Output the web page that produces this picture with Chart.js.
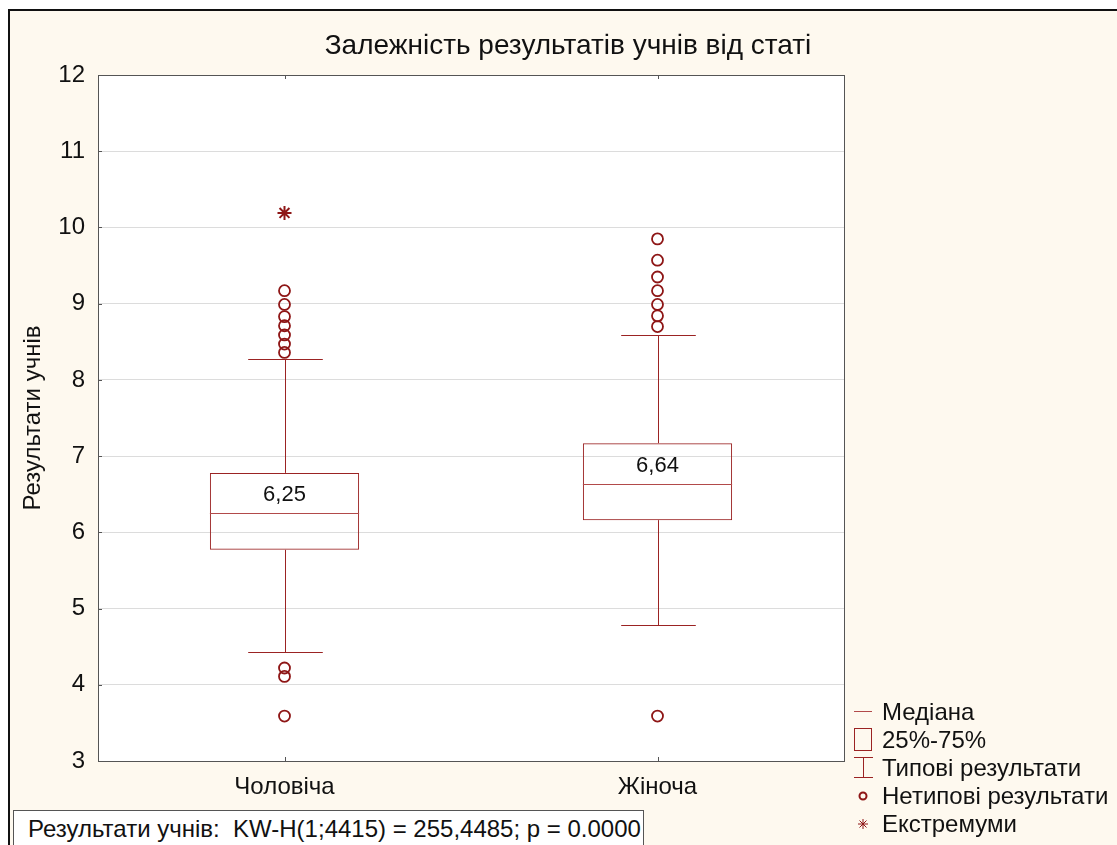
<!DOCTYPE html>
<html lang="uk">
<head>
<meta charset="utf-8">
<title>Залежність результатів учнів від статі</title>
<script src="https://cdn.jsdelivr.net/npm/chart.js@4.4.1/dist/chart.umd.min.js"></script>
<style>
  html, body { margin: 0; padding: 0; background: #ffffff; }
  body { width: 1117px; height: 845px; position: relative; overflow: hidden;
         font-family: "Liberation Sans", Arial, sans-serif; color: #111; }
  #frame { position: absolute; left: 8px; top: 9px; width: 1200px; height: 900px;
           background: #fef9ef; border-top: 2px solid #111; border-left: 2px solid #111; }
  #chart { position: absolute; left: 0; top: 0; }
  #title { position: absolute; left: 218px; width: 700px; top: 28px; text-align: center;
           font-size: 28px; line-height: 34px; white-space: nowrap; }
  #stats { position: absolute; left: 13px; top: 810px; width: 631px; height: 50px;
           background: #ffffff; border: 1px solid #555; box-sizing: border-box;
           font-size: 24px; line-height: 36px; padding-left: 14px; white-space: pre; }
  .leg { position: absolute; left: 882px; font-size: 24px; line-height: 28px; white-space: nowrap; }
</style>
</head>
<body>
<div id="frame"></div>
<canvas id="chart" width="1117" height="845"></canvas>
<div id="title">Залежність результатів учнів від статі</div>
<div id="legendText"></div>
<div id="stats">Результати учнів:  KW-H(1;4415) = 255,4485; p = 0.0000</div>
<script>
// Groups and box-plot statistics
const categories = ['Чоловіча', 'Жіноча'];
const quartile1 = [5.77, 6.16];
const quartile3 = [6.78, 7.17];
const medians = [6.25, 6.64];
const whiskerLow = [4.43, 4.78];
const whiskerHigh = [8.27, 8.59];
const outliersMale = [3.59, 4.11, 4.22, 8.36, 8.47, 8.59, 8.71, 8.83, 8.99, 9.17];
const outliersFemale = [3.59, 8.70, 8.84, 8.99, 9.17, 9.35, 9.57, 9.85];
const extremesMale = [10.19];
const yTicks = [3, 4, 5, 6, 7, 8, 9, 10, 11, 12];
const legendLabels = ['Медіана', '25%-75%', 'Типові результати', 'Нетипові результати', 'Екстремуми'];

const boxColor = '#9b2323';
const medianColor = '#b24a4a';
const pointColor = '#8e1616';
const fontFamily = '"Liberation Sans", Arial, sans-serif';

// Legend captions
const legendRowsY = [712, 740, 768, 796, 824];
const legendHost = document.getElementById('legendText');
legendLabels.forEach((t, i) => {
  const d = document.createElement('div');
  d.className = 'leg';
  d.style.top = (legendRowsY[i] - 14) + 'px';
  d.textContent = t;
  legendHost.appendChild(d);
});

const boxPlotPlugin = {
  id: 'boxPlot',
  beforeDraw(chart) {
    const { ctx, chartArea: a } = chart;
    ctx.save();
    ctx.fillStyle = '#ffffff';
    ctx.fillRect(a.left, a.top, a.right - a.left, a.bottom - a.top);
    ctx.restore();
  },
  afterDatasetsDraw(chart) {
    const { ctx, chartArea: a, scales } = chart;
    const y = scales.y, x = scales.x;
    const meta = chart.getDatasetMeta(0);
    ctx.save();
    ctx.lineWidth = 1;
    meta.data.forEach((bar, i) => {
      const cx = Math.round(bar.x) + 0.5;
      const half = bar.width / 2;
      const capHalf = half / 2;
      const pQ1 = y.getPixelForValue(quartile1[i]);
      const pQ3 = y.getPixelForValue(quartile3[i]);
      const pLo = Math.round(y.getPixelForValue(whiskerLow[i])) + 0.5;
      const pHi = Math.round(y.getPixelForValue(whiskerHigh[i])) + 0.5;
      const pMed = Math.round(y.getPixelForValue(medians[i])) + 0.5;
      // whiskers
      ctx.strokeStyle = boxColor;
      ctx.beginPath();
      ctx.moveTo(cx, pQ3); ctx.lineTo(cx, pHi);
      ctx.moveTo(cx - capHalf, pHi); ctx.lineTo(cx + capHalf, pHi);
      ctx.moveTo(cx, pQ1); ctx.lineTo(cx, pLo);
      ctx.moveTo(cx - capHalf, pLo); ctx.lineTo(cx + capHalf, pLo);
      ctx.stroke();
      // median
      ctx.strokeStyle = medianColor;
      ctx.beginPath();
      ctx.moveTo(bar.x - half, pMed); ctx.lineTo(bar.x + half, pMed);
      ctx.stroke();
      // median value
      ctx.fillStyle = '#111';
      ctx.font = '22px ' + fontFamily;
      ctx.textAlign = 'center';
      ctx.textBaseline = 'middle';
      ctx.fillText(medians[i].toFixed(2).replace('.', ','), bar.x, (pQ3 + pMed) / 2 + 2);
    });
    // plot frame and inward ticks
    ctx.strokeStyle = '#555';
    ctx.lineWidth = 1;
    ctx.strokeRect(Math.round(a.left) + 0.5, Math.round(a.top) + 0.5,
                   Math.round(a.right - a.left), Math.round(a.bottom - a.top));
    ctx.beginPath();
    yTicks.forEach(v => {
      const py = Math.round(y.getPixelForValue(v)) + 0.5;
      ctx.moveTo(a.left, py); ctx.lineTo(a.left + 4, py);
    });
    categories.forEach((c, i) => {
      const px = Math.round(x.getPixelForValue(i)) + 0.5;
      ctx.moveTo(px, a.top); ctx.lineTo(px, a.top + 4);
      ctx.moveTo(px, a.bottom); ctx.lineTo(px, a.bottom - 4);
    });
    ctx.stroke();
    ctx.restore();
    drawLegendSymbols(ctx);
  }
};

function drawLegendSymbols(ctx) {
  ctx.save();
  ctx.lineWidth = 1;
  // median
  ctx.strokeStyle = medianColor;
  ctx.beginPath();
  ctx.moveTo(854, 711.5); ctx.lineTo(872, 711.5);
  ctx.stroke();
  // quartile box
  ctx.strokeStyle = boxColor;
  ctx.strokeRect(854.5, 728.5, 17, 22);
  // whisker
  ctx.beginPath();
  ctx.moveTo(863.5, 757); ctx.lineTo(863.5, 778);
  ctx.moveTo(854, 757.5); ctx.lineTo(873, 757.5);
  ctx.moveTo(854, 777.5); ctx.lineTo(873, 777.5);
  ctx.stroke();
  // outlier
  ctx.strokeStyle = pointColor;
  ctx.lineWidth = 2;
  ctx.beginPath();
  ctx.arc(863, 796, 3.5, 0, Math.PI * 2);
  ctx.stroke();
  // extreme
  ctx.lineWidth = 1;
  ctx.beginPath();
  ctx.moveTo(863, 819); ctx.lineTo(863, 829);
  ctx.moveTo(858, 824); ctx.lineTo(868, 824);
  ctx.moveTo(859.5, 820.5); ctx.lineTo(866.5, 827.5);
  ctx.moveTo(866.5, 820.5); ctx.lineTo(859.5, 827.5);
  ctx.stroke();
  ctx.restore();
}

const toPoints = (label, arr) => arr.map(v => ({ x: label, y: v }));

new Chart(document.getElementById('chart'), {
  type: 'bar',
  data: {
    labels: categories,
    datasets: [
      {
        label: '25%-75%',
        data: categories.map((_, i) => [quartile1[i], quartile3[i]]),
        backgroundColor: 'rgba(0,0,0,0)',
        borderColor: boxColor,
        borderWidth: 1,
        borderSkipped: false,
        barPercentage: 0.4,
        categoryPercentage: 1,
        grouped: false,
        order: 2
      },
      {
        type: 'line',
        label: 'Нетипові результати',
        data: toPoints(categories[0], outliersMale).concat(toPoints(categories[1], outliersFemale)),
        showLine: false,
        pointStyle: 'circle',
        pointRadius: 5.5,
        pointBorderWidth: 1.8,
        pointBorderColor: pointColor,
        pointBackgroundColor: 'rgba(0,0,0,0)',
        order: 1
      },
      {
        type: 'line',
        label: 'Екстремуми',
        data: toPoints(categories[0], extremesMale),
        showLine: false,
        pointStyle: 'star',
        pointRadius: 7,
        pointBorderWidth: 2,
        pointBorderColor: pointColor,
        pointBackgroundColor: pointColor,
        order: 0
      }
    ]
  },
  options: {
    responsive: false,
    animation: false,
    layout: { padding: { left: 0, top: 75, right: 273, bottom: 0 } },
    plugins: { legend: { display: false }, tooltip: { enabled: false }, title: { display: false } },
    scales: {
      x: {
        type: 'category',
        offset: true,
        grid: { display: false, drawTicks: false },
        border: { display: false },
        ticks: { color: '#111', padding: 12, font: { family: fontFamily, size: 24 } },
        afterFit(scale) { scale.height = 84; }
      },
      y: {
        min: 3,
        max: 12,
        afterBuildTicks(scale) { scale.ticks = yTicks.map(v => ({ value: v })); },
        grid: { color: '#dcdcdc', drawTicks: false },
        border: { display: false },
        ticks: { color: '#111', padding: 13, font: { family: fontFamily, size: 24 } },
        title: {
          display: true,
          text: 'Результати учнів',
          color: '#111',
          padding: { top: 19, bottom: 0 },
          font: { family: fontFamily, size: 24 }
        },
        afterFit(scale) { scale.width = 98; }
      }
    }
  },
  plugins: [boxPlotPlugin]
});
</script>
</body>
</html>
